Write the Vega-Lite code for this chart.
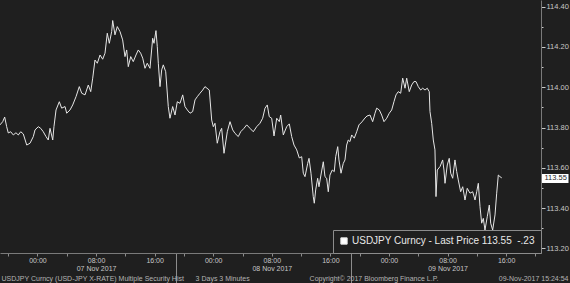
{
  "$schema": "https://vega.github.io/schema/vega-lite/v6.json",
  "width": 541,
  "height": 253,
  "autosize": {"type": "none"},
  "padding": {"left": 0, "top": 0, "right": 29, "bottom": 30},
  "background": "#1f1f1f",
  "title": {"text": "Copyright© 2017 Bloomberg Finance L.P.", "orient": "top", "anchor": "middle", "frame": "group", "dx": 103.5, "offset": -286, "baseline": "middle", "fontSize": 7, "fontWeight": "normal", "color": "#b4b4b4", "font": "Liberation Sans"},
  "config": {"view": {"stroke": null}, "font": "Liberation Sans"},
  "data": {"values": [
    {"h": -5.12, "price": 113.813}, {"h": -4.75, "price": 113.829}, {"h": -4.48, "price": 113.852}, {"h": -4.21, "price": 113.804},
    {"h": -3.99, "price": 113.773}, {"h": -3.66, "price": 113.779}, {"h": -3.30, "price": 113.763}, {"h": -2.94, "price": 113.774},
    {"h": -2.62, "price": 113.763}, {"h": -2.29, "price": 113.779}, {"h": -1.94, "price": 113.768}, {"h": -1.47, "price": 113.713},
    {"h": -1.02, "price": 113.722}, {"h": -0.57, "price": 113.755}, {"h": -0.34, "price": 113.788}, {"h": 0.11, "price": 113.804},
    {"h": 0.44, "price": 113.796}, {"h": 0.79, "price": 113.779}, {"h": 1.16, "price": 113.755}, {"h": 1.47, "price": 113.738},
    {"h": 1.71, "price": 113.796}, {"h": 2.08, "price": 113.738}, {"h": 2.25, "price": 113.804}, {"h": 2.53, "price": 113.887},
    {"h": 2.98, "price": 113.928}, {"h": 3.30, "price": 113.896}, {"h": 3.76, "price": 113.904}, {"h": 3.99, "price": 113.871},
    {"h": 4.44, "price": 113.887}, {"h": 4.81, "price": 113.912}, {"h": 5.26, "price": 113.953}, {"h": 5.71, "price": 114.003},
    {"h": 6.04, "price": 113.970}, {"h": 6.49, "price": 113.962}, {"h": 6.94, "price": 114.011}, {"h": 7.27, "price": 113.978},
    {"h": 7.54, "price": 114.045}, {"h": 7.85, "price": 114.135}, {"h": 8.17, "price": 114.119}, {"h": 8.54, "price": 114.160},
    {"h": 8.90, "price": 114.139}, {"h": 9.22, "price": 114.169}, {"h": 9.53, "price": 114.268}, {"h": 9.81, "price": 114.218},
    {"h": 10.13, "price": 114.276}, {"h": 10.27, "price": 114.331}, {"h": 10.58, "price": 114.260}, {"h": 10.90, "price": 114.301},
    {"h": 11.27, "price": 114.276}, {"h": 11.63, "price": 114.235}, {"h": 11.95, "price": 114.152}, {"h": 12.18, "price": 114.185},
    {"h": 12.40, "price": 114.102}, {"h": 12.73, "price": 114.152}, {"h": 13.08, "price": 114.127}, {"h": 13.45, "price": 114.160},
    {"h": 13.77, "price": 114.185}, {"h": 14.09, "price": 114.169}, {"h": 14.37, "price": 114.144}, {"h": 14.68, "price": 114.094},
    {"h": 14.99, "price": 114.119}, {"h": 15.36, "price": 114.094}, {"h": 15.73, "price": 114.243}, {"h": 15.91, "price": 114.218},
    {"h": 16.18, "price": 114.281}, {"h": 16.36, "price": 114.201}, {"h": 16.50, "price": 114.119}, {"h": 16.73, "price": 114.003},
    {"h": 16.96, "price": 114.086}, {"h": 17.18, "price": 114.111}, {"h": 17.51, "price": 114.077}, {"h": 17.86, "price": 113.904},
    {"h": 18.09, "price": 113.846}, {"h": 18.46, "price": 113.904}, {"h": 18.78, "price": 113.862}, {"h": 19.09, "price": 113.928},
    {"h": 19.46, "price": 113.920}, {"h": 19.83, "price": 113.962}, {"h": 20.14, "price": 113.904}, {"h": 20.46, "price": 113.887},
    {"h": 20.83, "price": 113.871}, {"h": 21.19, "price": 113.879}, {"h": 21.51, "price": 113.937}, {"h": 21.82, "price": 113.953},
    {"h": 22.19, "price": 113.970}, {"h": 22.56, "price": 113.986}, {"h": 22.87, "price": 114.003}, {"h": 23.46, "price": 113.986},
    {"h": 23.79, "price": 113.837}, {"h": 24.01, "price": 113.804}, {"h": 24.24, "price": 113.821}, {"h": 24.55, "price": 113.722},
    {"h": 24.92, "price": 113.779}, {"h": 25.15, "price": 113.796}, {"h": 25.47, "price": 113.672}, {"h": 25.92, "price": 113.779},
    {"h": 26.29, "price": 113.829}, {"h": 26.66, "price": 113.788}, {"h": 26.97, "price": 113.771}, {"h": 27.42, "price": 113.755},
    {"h": 27.75, "price": 113.779}, {"h": 28.20, "price": 113.796}, {"h": 28.57, "price": 113.813}, {"h": 29.02, "price": 113.796},
    {"h": 29.47, "price": 113.779}, {"h": 29.93, "price": 113.804}, {"h": 30.38, "price": 113.821}, {"h": 30.75, "price": 113.846},
    {"h": 31.07, "price": 113.896}, {"h": 31.38, "price": 113.912}, {"h": 31.65, "price": 113.854}, {"h": 31.98, "price": 113.846},
    {"h": 32.30, "price": 113.758}, {"h": 32.67, "price": 113.846}, {"h": 33.02, "price": 113.829}, {"h": 33.21, "price": 113.862},
    {"h": 33.57, "price": 113.763}, {"h": 34.03, "price": 113.804}, {"h": 34.39, "price": 113.818}, {"h": 34.71, "price": 113.755},
    {"h": 35.03, "price": 113.713}, {"h": 35.40, "price": 113.689}, {"h": 35.75, "price": 113.649}, {"h": 36.08, "price": 113.655},
    {"h": 36.30, "price": 113.573}, {"h": 36.53, "price": 113.556}, {"h": 36.90, "price": 113.622}, {"h": 37.08, "price": 113.647},
    {"h": 37.35, "price": 113.573}, {"h": 37.66, "price": 113.457}, {"h": 37.80, "price": 113.424}, {"h": 37.99, "price": 113.490},
    {"h": 38.26, "price": 113.548}, {"h": 38.44, "price": 113.506}, {"h": 38.71, "price": 113.564}, {"h": 39.03, "price": 113.630},
    {"h": 39.26, "price": 113.556}, {"h": 39.49, "price": 113.548}, {"h": 39.71, "price": 113.481}, {"h": 39.94, "price": 113.564},
    {"h": 40.26, "price": 113.589}, {"h": 40.53, "price": 113.581}, {"h": 40.72, "price": 113.655}, {"h": 41.00, "price": 113.705},
    {"h": 41.17, "price": 113.639}, {"h": 41.45, "price": 113.573}, {"h": 41.76, "price": 113.622}, {"h": 41.99, "price": 113.639},
    {"h": 42.22, "price": 113.713}, {"h": 42.44, "price": 113.738}, {"h": 42.67, "price": 113.730}, {"h": 42.91, "price": 113.763},
    {"h": 43.26, "price": 113.747}, {"h": 43.59, "price": 113.779}, {"h": 43.90, "price": 113.813}, {"h": 44.31, "price": 113.828},
    {"h": 44.72, "price": 113.847}, {"h": 45.00, "price": 113.857}, {"h": 45.41, "price": 113.862}, {"h": 45.77, "price": 113.829},
    {"h": 46.09, "price": 113.871}, {"h": 46.32, "price": 113.896}, {"h": 46.68, "price": 113.887}, {"h": 47.00, "price": 113.862},
    {"h": 47.32, "price": 113.829}, {"h": 47.69, "price": 113.846}, {"h": 48.04, "price": 113.871}, {"h": 48.37, "price": 113.887},
    {"h": 48.68, "price": 113.928}, {"h": 48.96, "price": 113.962}, {"h": 49.27, "price": 113.978}, {"h": 49.60, "price": 113.970},
    {"h": 49.87, "price": 114.045}, {"h": 50.19, "price": 113.995}, {"h": 50.42, "price": 114.045}, {"h": 50.77, "price": 113.978},
    {"h": 51.10, "price": 114.011}, {"h": 51.41, "price": 114.028}, {"h": 51.69, "price": 114.028}, {"h": 52.00, "price": 114.003},
    {"h": 52.33, "price": 113.986}, {"h": 52.60, "price": 113.995}, {"h": 52.92, "price": 113.986}, {"h": 53.23, "price": 113.995},
    {"h": 53.50, "price": 113.978}, {"h": 53.60, "price": 113.879}, {"h": 53.83, "price": 113.821}, {"h": 54.05, "price": 113.738},
    {"h": 54.28, "price": 113.689}, {"h": 54.42, "price": 113.457}, {"h": 54.60, "price": 113.589}, {"h": 54.97, "price": 113.606},
    {"h": 55.33, "price": 113.639}, {"h": 55.51, "price": 113.589}, {"h": 55.65, "price": 113.523}, {"h": 55.96, "price": 113.614},
    {"h": 56.23, "price": 113.647}, {"h": 56.43, "price": 113.573}, {"h": 56.70, "price": 113.548}, {"h": 57.01, "price": 113.639},
    {"h": 57.25, "price": 113.581}, {"h": 57.46, "price": 113.540}, {"h": 57.79, "price": 113.481}, {"h": 58.07, "price": 113.506},
    {"h": 58.38, "price": 113.440}, {"h": 58.69, "price": 113.498}, {"h": 59.06, "price": 113.474}, {"h": 59.43, "price": 113.481},
    {"h": 59.75, "price": 113.440}, {"h": 59.98, "price": 113.481}, {"h": 60.20, "price": 113.523}, {"h": 60.43, "price": 113.407},
    {"h": 60.66, "price": 113.325}, {"h": 60.88, "price": 113.349}, {"h": 61.11, "price": 113.291}, {"h": 61.42, "price": 113.357},
    {"h": 61.70, "price": 113.415}, {"h": 61.89, "price": 113.325}, {"h": 62.16, "price": 113.291}, {"h": 62.48, "price": 113.366},
    {"h": 62.71, "price": 113.474}, {"h": 62.93, "price": 113.564}, {"h": 63.16, "price": 113.556}, {"h": 63.40, "price": 113.550}
  ]},
  "mark": {"type": "line", "strokeWidth": 1, "interpolate": "linear"},
  "encoding": {
    "x": {
      "field": "h", "type": "quantitative",
      "scale": {"domain": [-5.12, 68.76], "nice": false, "zero": false},
      "axis": {
        "values": [-4, 0, 4, 8, 12, 16, 18.88, 20, 24, 28, 32, 36, 40, 42.88, 44, 48, 52, 56, 60, 64, 68],
        "labelExpr": "datum.value == 8 ? ['08:00', '07 Nov 2017'] : datum.value == 32 ? ['08:00', '08 Nov 2017'] : datum.value == 56 ? ['08:00', '09 Nov 2017'] : (datum.value == 0 || datum.value == 24 || datum.value == 48) ? '00:00' : (datum.value == 16 || datum.value == 40 || datum.value == 64) ? '16:00' : ''",
        "labelFont": "Liberation Sans", "labelFontSize": 7, "labelColor": "#c8c8c8", "labelLineHeight": 8.5,
        "labelPadding": 0, "labelOverlap": false, "labelBound": false, "labelFlush": false, "labelAngle": 0, "labelBaseline": "top",
        "tickSize": {"condition": {"test": "datum.value == 18.88 || datum.value == 42.88", "value": 30}, "value": 3},
        "tickColor": "#8c8c8c", "tickWidth": 1,
        "domainColor": "#7a7a7a", "domainWidth": 1, "grid": false,
        "title": "USDJPY Curncy (USD-JPY X-RATE) Multiple Security Hist\u00a0\u00a0\u00a0\u00a0\u00a0\u00a03 Days 3 Minutes",
        "titleX": 1, "titleY": 25.5, "titleAlign": "left", "titleBaseline": "middle", "titleAngle": 0,
        "titleFont": "Liberation Sans", "titleFontSize": 7, "titleFontWeight": "normal", "titleColor": "#b4b4b4"
      }
    },
    "y": {
      "field": "price", "type": "quantitative",
      "scale": {"domain": [113.177, 114.433], "nice": false, "zero": false},
      "axis": {
        "orient": "right",
        "values": [113.2, 113.3, 113.4, 113.5, 113.55, 113.6, 113.7, 113.8, 113.9, 114.0, 114.1, 114.2, 114.3, 114.4],
        "labelExpr": "abs(datum.value - 113.55) < 0.001 ? '113.55' : (round(datum.value * 10) % 2 == 0 ? format(datum.value, '.2f') : '')",
        "tickSize": {"condition": [{"test": "abs(datum.value - 113.55) < 0.001", "value": 27}, {"test": "round(datum.value * 10) % 2 == 0", "value": 4}], "value": 2},
        "tickWidth": {"condition": {"test": "abs(datum.value - 113.55) < 0.001", "value": 9}, "value": 1},
        "tickColor": {"condition": {"test": "abs(datum.value - 113.55) < 0.001", "value": "#ffffff"}, "value": "#c8c8c8"},
        "labelColor": {"condition": {"test": "abs(datum.value - 113.55) < 0.001", "value": "#1f1f1f"}, "value": "#c8c8c8"},
        "labelPadding": {"condition": {"test": "abs(datum.value - 113.55) < 0.001", "value": -24}, "value": 1},
        "labelFont": "Liberation Sans", "labelFontSize": 7.5, "labelOverlap": false, "labelBound": false, "labelFlush": false,
        "domainColor": "#7a7a7a", "domainWidth": 1, "grid": false,
        "title": "09-Nov-2017 15:24:54", "titleAngle": 0, "titleX": 27, "titleY": 278.5, "titleAlign": "right", "titleBaseline": "middle",
        "titleFont": "Liberation Sans", "titleFontSize": 7, "titleFontWeight": "normal", "titleColor": "#b4b4b4"
      }
    },
    "color": {
      "datum": "USDJPY Curncy - Last Price 113.55\u00a0\u00a0-.23",
      "type": "nominal",
      "scale": {"range": ["#e6e6e6"]},
      "legend": {
        "orient": "bottom-right", "offset": 0, "title": null, "padding": 6,
        "strokeColor": "#8c8c8c", "fillColor": "#1f1f1f",
        "symbolType": "square", "symbolSize": 40, "symbolFillColor": "#ffffff", "symbolStrokeColor": "#ffffff", "symbolStrokeWidth": 1,
        "labelFont": "Liberation Sans", "labelFontSize": 10, "labelColor": "#e8e8e8", "labelOffset": 3, "labelLimit": 0,
        "encode": {"symbols": {"update": {"fill": {"value": "#ffffff"}, "stroke": {"value": "#ffffff"}, "opacity": {"value": 1}}}}
      }
    }
  }
}
